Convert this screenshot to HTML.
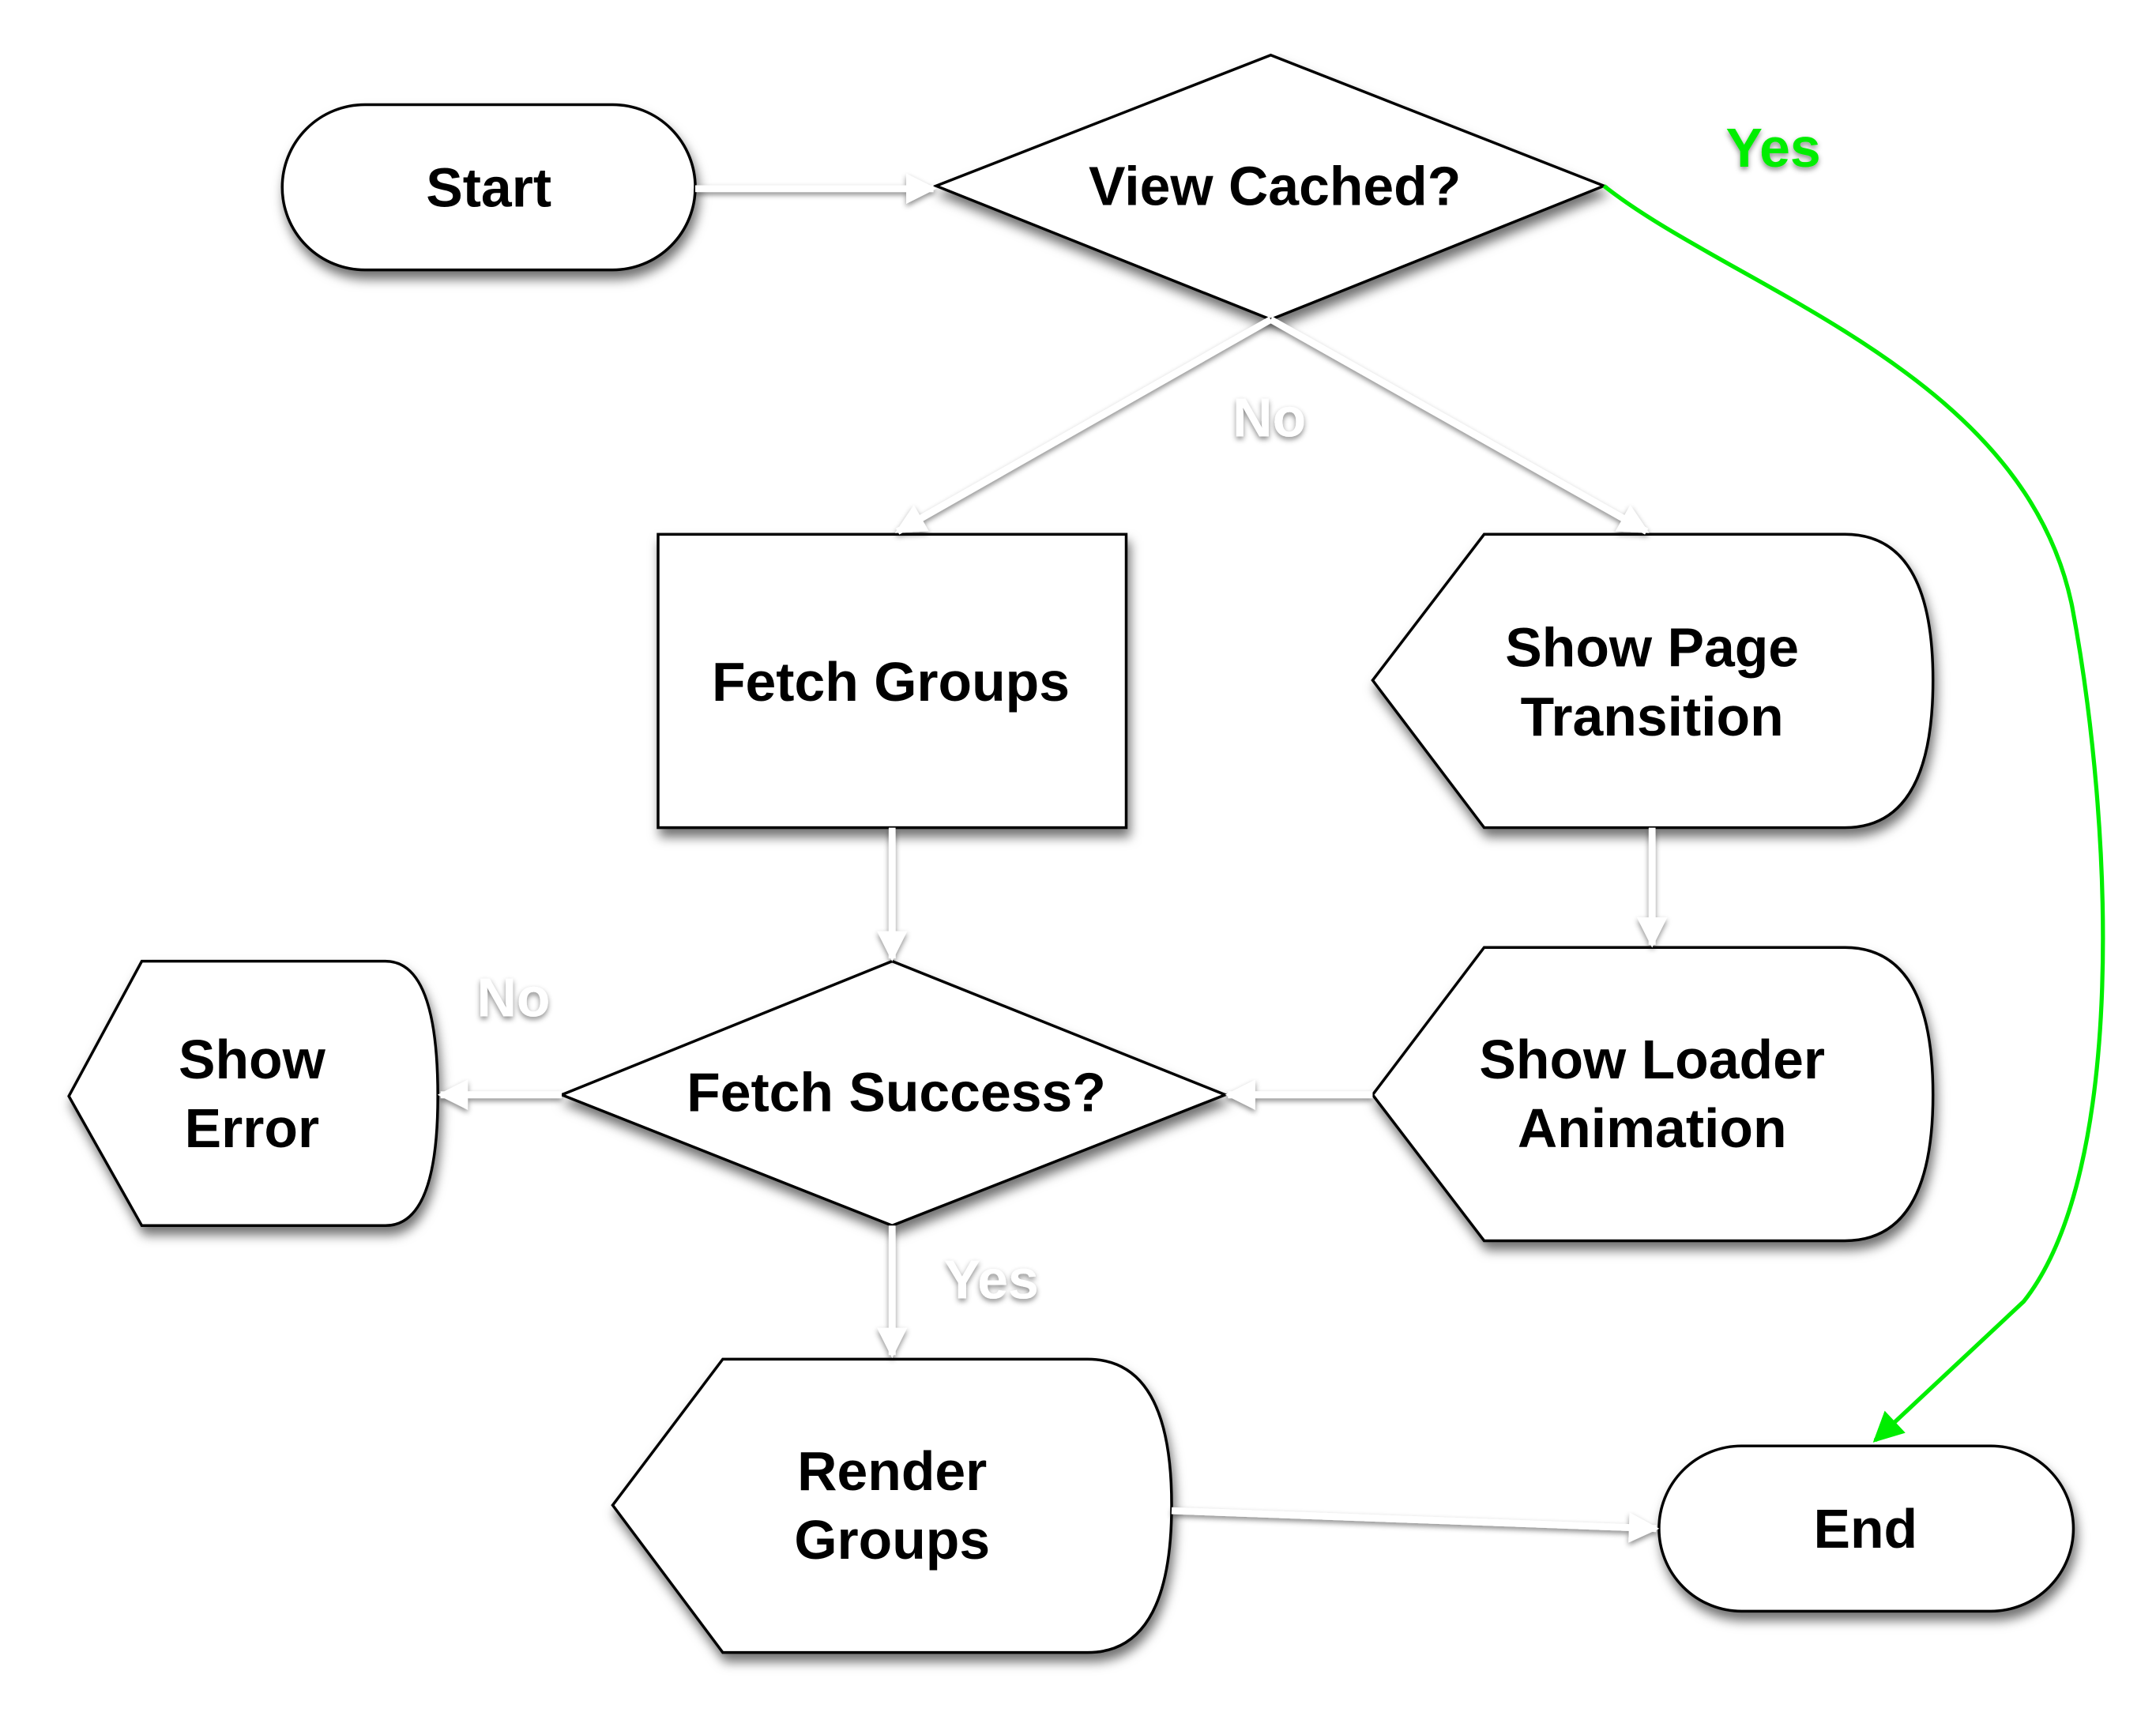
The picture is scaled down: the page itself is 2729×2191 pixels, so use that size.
<!DOCTYPE html>
<html><head><meta charset="utf-8"><style>
html,body{margin:0;padding:0;background:#fff}
svg{display:block}
text{font-family:"Liberation Sans",sans-serif;font-weight:bold;font-size:40px;text-anchor:middle;fill:#000}
</style></head><body>
<svg width="2729" height="2191" viewBox="0 0 1566 1257" preserveAspectRatio="none" xmlns="http://www.w3.org/2000/svg">
<defs>
<filter id="sh" x="-20%" y="-20%" width="140%" height="150%"><feDropShadow dx="2" dy="6" stdDeviation="4" flood-color="#000" flood-opacity="0.55"/></filter>
<filter id="lsh" x="-20%" y="-50%" width="140%" height="200%"><feDropShadow dx="0" dy="2" stdDeviation="2" flood-color="#000" flood-opacity="0.45"/></filter>
<marker id="wa2" viewBox="0 0 10 10" refX="9" refY="5" markerWidth="28" markerHeight="22" orient="auto" markerUnits="userSpaceOnUse"><path d="M0,0 L10,5 L0,10 z" fill="#fff"/></marker>
<marker id="ga" viewBox="0 0 10 10" refX="9" refY="5" markerWidth="28" markerHeight="22" orient="auto" markerUnits="userSpaceOnUse"><path d="M0,0 L10,5 L0,10 z" fill="#00ee00"/></marker>
</defs>
<g fill="#fff" stroke="#000" stroke-width="2" filter="url(#sh)">
<rect x="205" y="76" width="300" height="120" rx="60"/>
<path d="M923,40 L1165,135 L923,232 L680,135 Z"/>
<rect x="478" y="388" width="340" height="213"/>
<path d="M997,494 L1078,388 L1340,388 Q1404,388 1404,494 Q1404,601 1340,601 L1078,601 Z"/>
<path d="M997,795 L1078,688 L1340,688 Q1404,688 1404,795 Q1404,901 1340,901 L1078,901 Z"/>
<path d="M648,698 L890,795 L648,890 L408,795 Z"/>
<path d="M50,796 L103,698 L280,698 Q318,698 318,796 Q318,890 280,890 L103,890 Z"/>
<path d="M445,1093 L525,987 L790,987 Q851,987 851,1093 Q851,1200 790,1200 L525,1200 Z"/>
<rect x="1205" y="1050" width="301" height="120" rx="60"/>
</g>
<g stroke="#fff" stroke-width="5" fill="none" filter="url(#lsh)" marker-end="url(#wa2)">
<line x1="505" y1="137" x2="678" y2="137"/>
<line x1="923" y1="232" x2="652" y2="386"/>
<line x1="923" y1="232" x2="1196" y2="386"/>
<line x1="648" y1="601" x2="648" y2="696"/>
<line x1="1200" y1="601" x2="1200" y2="686"/>
<line x1="997" y1="795" x2="892" y2="795"/>
<line x1="408" y1="795" x2="320" y2="795"/>
<line x1="648" y1="890" x2="648" y2="984"/>
<line x1="851" y1="1097" x2="1203" y2="1110"/>
</g>
<path d="M1165,135 C1260,210 1470,270 1505,440 C1535,600 1545,850 1470,945 L1362,1046" stroke="#00ee00" stroke-width="3" fill="none" marker-end="url(#ga)"/>
<text x="355" y="150">Start</text>
<text x="926" y="149">View Cached?</text>
<text x="647" y="509">Fetch Groups</text>
<text x="1200" y="484">Show Page</text>
<text x="1200" y="534">Transition</text>
<text x="1200" y="783">Show Loader</text>
<text x="1200" y="833">Animation</text>
<text x="651" y="807">Fetch Success?</text>
<text x="183" y="783">Show</text>
<text x="183" y="833">Error</text>
<text x="648" y="1082">Render</text>
<text x="648" y="1132">Groups</text>
<text x="1355" y="1124">End</text>
<g filter="url(#lsh)">
<text x="1288" y="121" style="fill:#00ee00">Yes</text>
<text x="922" y="317" style="fill:#fff">No</text>
<text x="373" y="738" style="fill:#fff">No</text>
<text x="720" y="943" style="fill:#fff">Yes</text>
</g>
</svg>
</body></html>
